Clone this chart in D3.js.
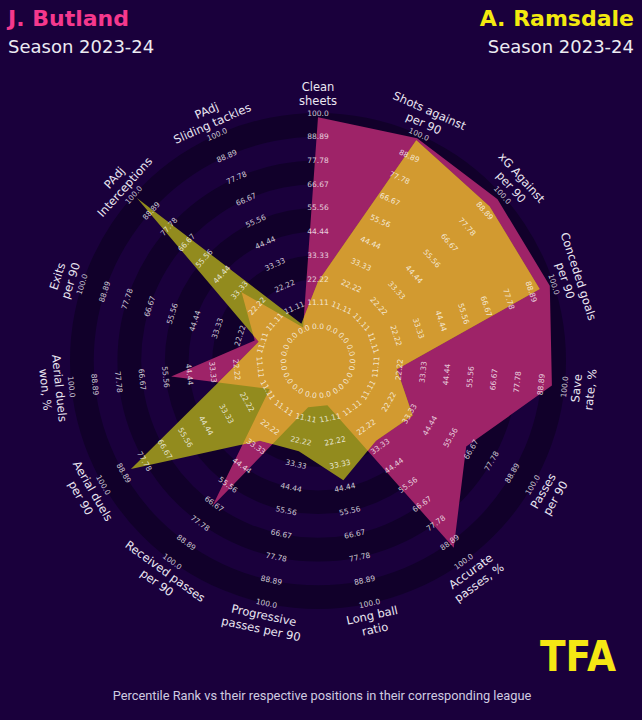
<!DOCTYPE html>
<html><head><meta charset="utf-8">
<script src="https://cdn.jsdelivr.net/npm/d3@7"></script>
<style>html,body{margin:0;padding:0;background:#1a003c;} svg{display:block}</style>
</head><body><svg id="c" width="642" height="720"></svg>
<script>
const params = ["Clean\nsheets","Shots against\nper 90","xG Against\nper 90","Conceded goals\nper 90","Save\nrate, %","Passes\nper 90","Accurate\npasses, %","Long ball\nratio","Progressive\npasses per 90","Received passes\nper 90","Aerial duels\nper 90","Aerial duels\nwon, %","Exits\nper 90","PAdj\nInterceptions","PAdj\nSliding tackles"];
const butland  = [98, 98, 97, 98, 94, 64, 92, 5, 6, 68, 10, 53, 15, 32, 1];
const ramsdale = [21, 97, 92, 93, 21, 35, 30, 41, 27, 30, 85, 25, 13, 98, 3];
const tickValues = [0, 11.11, 22.22, 33.33, 44.44, 55.56, 66.67, 77.78, 88.89, 100];
const tickLabels = ["0.0","11.11","22.22","33.33","44.44","55.56","66.67","77.78","88.89","100.0"];
const playerNames = ["J. Butland", "A. Ramsdale"];
const seasonText = "Season 2023-24";
const footerText = "Percentile Rank vs their respective positions in their corresponding league";

const BG = "#1a003c", RING = "#11002a";
const C_BUT = "#9e2368", C_RAM = "#928b1e", C_BOTH = "#d29a30";
const cx = 318, cy = 361;
const svg = d3.select("#c");
svg.append("rect").attr("width", 642).attr("height", 720).attr("fill", BG);

const r = d3.scaleLinear().domain([0, 100]).range([34.5, 248]);
const n = params.length;
const ang = d3.scaleLinear().domain([0, n]).range([0, 2 * Math.PI]);
const pt = (a, rad) => [cx + rad * Math.sin(a), cy - rad * Math.cos(a)];
const rotOf = i => { const d = ang(i) * 180 / Math.PI; return (d > 90 && d < 270) ? d - 180 : (d >= 270 ? d - 360 : d); };

const g = svg.append("g");
// rings
const arc = d3.arc();
for (let k = 0; k < tickValues.length - 1; k += 2) {
  g.append("path")
    .attr("transform", `translate(${cx},${cy})`)
    .attr("d", arc({innerRadius: r(tickValues[k]), outerRadius: r(tickValues[k + 1]), startAngle: 0, endAngle: 2 * Math.PI}))
    .attr("fill", RING);
}

const line = d3.line().curve(d3.curveLinearClosed);
const polyB = line(butland.map((v, i) => pt(ang(i), r(v))));
const polyR = line(ramsdale.map((v, i) => pt(ang(i), r(v))));
const defs = svg.append("defs");
defs.append("clipPath").attr("id", "clipB").append("path").attr("d", polyB);
g.append("path").attr("d", polyB).attr("fill", C_BUT);
g.append("path").attr("d", polyR).attr("fill", C_RAM);
g.append("path").attr("d", polyR).attr("fill", C_BOTH).attr("clip-path", "url(#clipB)");

// range labels
params.forEach((p, i) => {
  tickValues.forEach((v, j) => {
    const [x, y] = pt(ang(i), r(v));
    g.append("text")
      .attr("transform", `translate(${x},${y}) rotate(${rotOf(i)})`)
      .attr("text-anchor", "middle").attr("dominant-baseline", "central")
      .attr("font-family", "DejaVu Sans").attr("font-size", 7.5)
      .attr("fill", "#ffffff").attr("fill-opacity", 0.78)
      .text(tickLabels[j]);
  });
});

// param labels
params.forEach((p, i) => {
  const [x, y] = pt(ang(i), 267);
  const lines = p.split("\n");
  const t = g.append("text")
    .attr("transform", `translate(${x},${y}) rotate(${rotOf(i)})`)
    .attr("text-anchor", "middle")
    .attr("font-family", "DejaVu Sans").attr("font-size", 11.5)
    .attr("fill", "#ebe7f2");
  lines.forEach((l, k) => {
    t.append("tspan").attr("x", 0)
      .attr("y", (k - (lines.length - 1) / 2) * 14)
      .attr("dominant-baseline", "central")
      .text(l);
  });
});

// titles
svg.append("text").attr("x", 8).attr("y", 26).attr("font-family", "DejaVu Sans").attr("font-weight", "bold")
  .attr("font-size", 22).attr("fill", "#f5388d").text(playerNames[0]);
svg.append("text").attr("x", 8).attr("y", 53).attr("font-family", "DejaVu Sans")
  .attr("font-size", 18).attr("fill", "#ecebf2").text(seasonText);
svg.append("text").attr("x", 634).attr("y", 26).attr("text-anchor", "end").attr("font-family", "DejaVu Sans").attr("font-weight", "bold")
  .attr("font-size", 22).attr("fill", "#f3e90f").text(playerNames[1]);
svg.append("text").attr("x", 634).attr("y", 53).attr("text-anchor", "end").attr("font-family", "DejaVu Sans")
  .attr("font-size", 18).attr("fill", "#ecebf2").text(seasonText);

// logo
svg.append("text").attr("x", 540).attr("y", 671).attr("font-family", "DejaVu Sans").attr("font-weight", "bold")
  .attr("font-size", 42).attr("fill", "#f5e614").attr("textLength", 76).attr("lengthAdjust", "spacingAndGlyphs").text("TFA");

// footer
svg.append("text").attr("x", 322).attr("y", 700).attr("text-anchor", "middle").attr("font-family", "Roboto")
  .attr("font-size", 12.8).attr("fill", "#cfcbe0").text(footerText);
</script></body></html>
